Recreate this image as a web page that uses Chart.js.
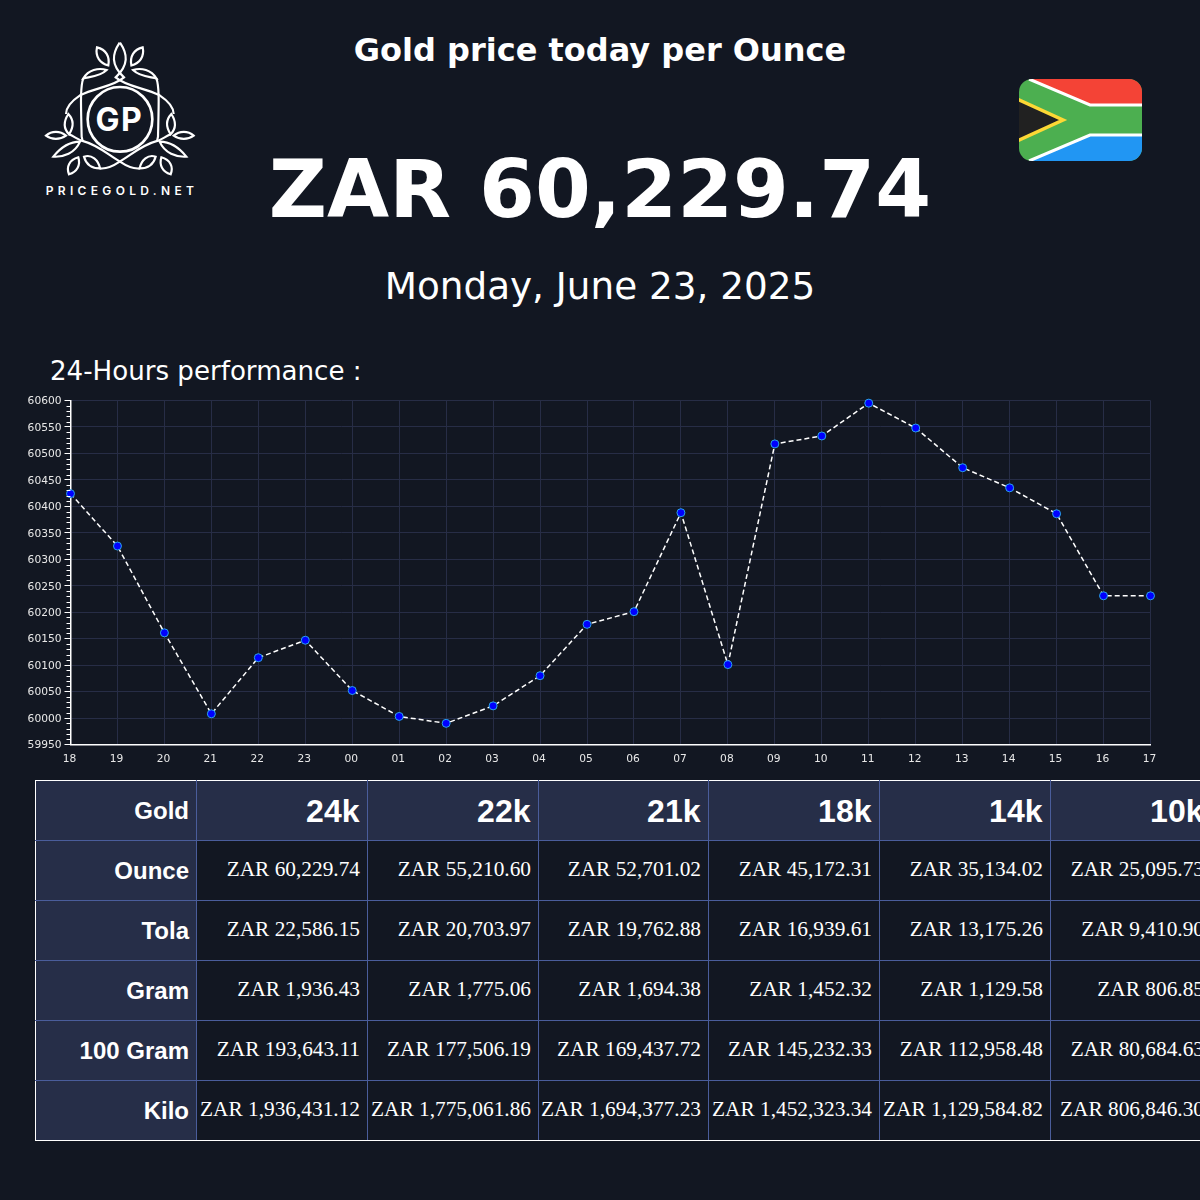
<!DOCTYPE html>
<html>
<head>
<meta charset="utf-8">
<script src="https://cdn.jsdelivr.net/npm/chart.js@4"></script>
<style>
html, body { margin: 0; width: 1200px; height: 1200px; overflow: hidden; background: #121722; color: #fff; font-family: "DejaVu Sans"; }
.txt { position: absolute; left: 0; width: 1200px; text-align: center; white-space: nowrap; }
#title { top: 30px; font: bold 32px/40px "DejaVu Sans"; }
#price { top: 139px; font: bold 80.3px/100px "DejaVu Sans"; }
#date { top: 262px; font: 37.33px/48px "DejaVu Sans"; }
#sub { top: 354px; left: 50px; width: auto; font: 26.1px/34px "DejaVu Sans"; }
#logo { position: absolute; left: 0; top: 20px; }
#flag { position: absolute; left: 1019px; top: 79px; }
#wrap { position: absolute; left: 0; top: 390px; width: 1200px; height: 380px; }
table { position: absolute; left: 35px; top: 780px; border-collapse: collapse; table-layout: fixed; width: 1176px; }
td, th { height: 60px; padding: 0 7px; box-sizing: border-box; border: 1px solid #4a5d9b; text-align: right; white-space: nowrap; }
th { background: #262e48; font-family: "Liberation Sans"; font-weight: bold; font-size: 24px; padding-top: 1px; }
thead th { border-top-color: #fff; }
thead th.k { font-size: 32px; padding-right: 7.5px; }
tbody tr:last-child > * { border-bottom-color: #fff; }
tr > th:first-child { border-left-color: #fff; }
td { font: 21.33px "Liberation Serif"; padding-left: 0; padding-bottom: 2px; }
</style>
</head>
<body>
<svg id="logo" width="240" height="190" viewBox="0 0 720 570" fill="none" stroke="#fff" stroke-width="6.5">
  <defs>
    <g id="half">
      <!-- hoja central y ramas -->
      <path d="M359 68C336 102 332 135 372 172C340 200 285 203 240 226C222 238 198 258 198 282"/>
      <path d="M320 150C295 142 265 150 250 175C270 170 300 170 320 150Z"/>
      <path d="M250 175C240 200 243 260 245 350L248 364"/>
      <path d="M240 365C205 365 180 385 160 410C190 412 225 400 240 365Z"/>
      <path d="M207 343C222 350 235 358 245 362C295 375 325 405 360 425C385 442 405 447 420 445"/>
      <path d="M291 82C318 88 330 110 325 136C300 130 285 110 291 82Z"/>
      <path d="M205 282C222 300 222 320 207 343C190 325 190 305 205 282Z"/>
      <path d="M138 347C155 332 180 332 198 347C180 360 155 360 138 347Z"/>
      <path d="M207 463C198 440 208 420 235 412C242 435 232 455 207 463Z"/>
      <path d="M252 410C275 402 295 420 300 445C275 445 258 432 252 410Z"/>
    </g>
  </defs>
  <use href="#half"/>
  <use href="#half" transform="translate(719 0) scale(-1 1)"/>
  <circle cx="360" cy="298" r="97" stroke-width="8"/>
  <text x="358" y="332" text-anchor="middle" font-family="Inter" font-weight="700" font-size="96" letter-spacing="4" fill="#fff" stroke="none">GP</text>
  <text x="366" y="524" text-anchor="middle" font-family="Inter" font-weight="600" font-size="36" letter-spacing="13" fill="#fff" stroke="none">PRICEGOLD.NET</text>
</svg>
<svg id="flag" width="123" height="82" viewBox="0 0 123 82">
  <defs><clipPath id="r"><rect width="123" height="82" rx="13"/></clipPath></defs>
  <g clip-path="url(#r)">
    <rect width="123" height="82" fill="#4caf50"/>
    <path d="M10 0H123V25H71Z" fill="#f44336"/>
    <path d="M10 82H123V57H71Z" fill="#2196f3"/>
    <path d="M10 0L71 26H123M10 82L71 56H123" fill="none" stroke="#fff" stroke-width="3"/>
    <path d="M-2 20L44 41L-2 62Z" fill="#212121" stroke="#fdd835" stroke-width="3.5"/>
  </g>
</svg>
<div id="title" class="txt">Gold price today per Ounce</div>
<div id="price" class="txt">ZAR 60,229.74</div>
<div id="date" class="txt">Monday, June 23, 2025</div>
<div id="sub" class="txt">24-Hours performance :</div>
<div id="wrap"><canvas id="grafico" width="1200" height="380"></canvas></div>
<table id="tabela"></table>
<script>
// dados do gráfico
const horas = ["18","19","20","21","22","23","00","01","02","03","04","05","06","07","08","09","10","11","12","13","14","15","16","17"];
const precos = [60424,60325,60161,60008,60114,60147,60052,60003,59990,60023,60080,60177,60201,60388,60101,60518,60533,60595,60548,60473,60435,60386,60231,60231];
// dados da tabela
const quilates = ["24k","22k","21k","18k","14k","10k"];
const pesos = ["Ounce","Tola","Gram","100 Gram","Kilo"];
const ounce = ["60,229.74","55,210.60","52,701.02","45,172.31","35,134.02","25,095.73"];
const tola = ["22,586.15","20,703.97","19,762.88","16,939.61","13,175.26","9,410.90"];
const gram = ["1,936.43","1,775.06","1,694.38","1,452.32","1,129.58","806.85"];
const gram100 = ["193,643.11","177,506.19","169,437.72","145,232.33","112,958.48","80,684.63"];
const kilo = ["1,936,431.12","1,775,061.86","1,694,377.23","1,452,323.34","1,129,584.82","806,846.30"];
const linhas = [ounce, tola, gram, gram100, kilo];
const larguras = [161,171,171,170,171,171,161];

let html = "<colgroup>" + larguras.map(l => `<col style="width:${l}px">`).join("") + "</colgroup>";
html += "<thead><tr><th>Gold</th>" + quilates.map(k => `<th class="k">${k}</th>`).join("") + "</tr></thead><tbody>";
pesos.forEach((p, i) => {
    html += `<tr><th>${p}</th>` + linhas[i].map(v => `<td>ZAR ${v}</td>`).join("") + "</tr>";
});
document.getElementById("tabela").innerHTML = html + "</tbody>";

// risquinhos menores do eixo y, de 10 em 10
const marcasMenores = {
    id: "marcasMenores",
    afterDatasetsDraw(chart) {
        const { ctx, scales: { y } } = chart;
        ctx.save();
        ctx.strokeStyle = "#fff";
        ctx.lineWidth = 1;
        for (let v = y.min; v <= y.max; v += 10) {
            if (v % 50 == 0) continue;
            const py = Math.round(y.getPixelForValue(v)) + 0.5;
            ctx.beginPath();
            ctx.moveTo(66.5, py);
            ctx.lineTo(70.5, py);
            ctx.stroke();
        }
        ctx.restore();
    }
};

new Chart("grafico", {
    type: "line",
    plugins: [marcasMenores],
    data: {
        labels: horas,
        datasets: [{
            data: precos,
            borderColor: "#fff",
            borderWidth: 1.5,
            borderDash: [5, 3],
            tension: 0,
            clip: false,
            pointRadius: 4,
            pointBackgroundColor: "#0000ff",
            pointBorderColor: "#2aa5e8",
            pointBorderWidth: 1
        }]
    },
    options: {
        responsive: false,
        animation: false,
        layout: { padding: { top: 10.5, right: 49.5, left: 0, bottom: 0 } },
        plugins: { legend: { display: false }, tooltip: { enabled: false } },
        scales: {
            x: {
                afterFit: s => { s.height = 25.5; },
                border: { color: "#fff", width: 1.5 },
                grid: { color: "#272d46", drawTicks: false },
                ticks: { color: "#e8e8e8", font: { family: "DejaVu Sans", size: 10.67 }, padding: 8, labelOffset: -1, maxRotation: 0, autoSkip: false }
            },
            y: {
                min: 59950,
                max: 60600,
                afterFit: s => { s.width = 70.5; },
                border: { color: "#fff", width: 1.5 },
                grid: { color: "#272d46", tickColor: "#fff", tickLength: 6 },
                ticks: { stepSize: 50, color: "#e8e8e8", font: { family: "DejaVu Sans", size: 10.67 }, padding: 3, labelOffset: 1, callback: v => String(v) }
            }
        }
    }
});
</script>
</body>
</html>
